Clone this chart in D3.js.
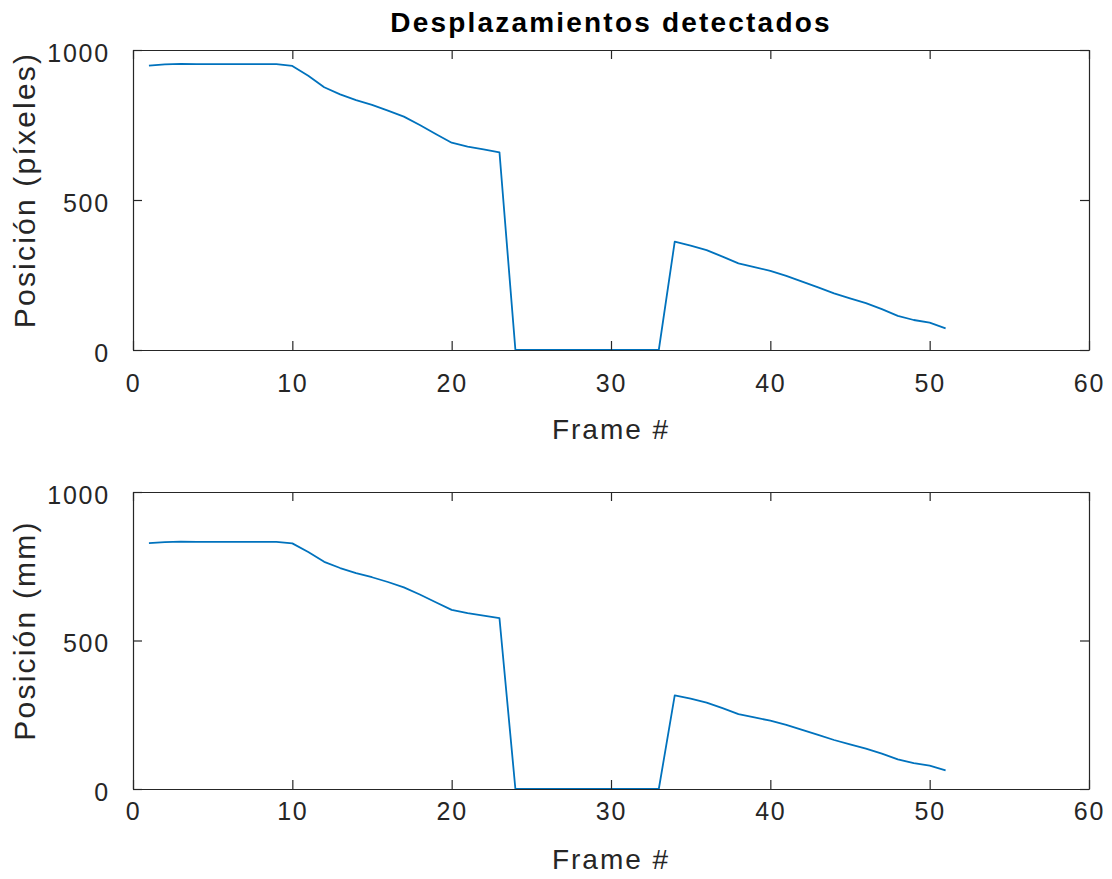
<!DOCTYPE html>
<html>
<head>
<meta charset="utf-8">
<script src="https://cdn.jsdelivr.net/npm/d3@7/dist/d3.min.js"></script>
<style>
  html, body { margin: 0; padding: 0; background: #fff; }
  svg { display: block; }
  text { font-family: "Liberation Sans", Arial, Helvetica, sans-serif; }
</style>
</head>
<body>
<svg id="chart" width="1112" height="879"></svg>
<script>
// Frame numbers 1..51
const frames = [1,2,3,4,5,6,7,8,9,10,11,12,13,14,15,16,17,18,19,20,21,22,23,24,25,26,27,28,29,30,31,32,33,34,35,36,37,38,39,40,41,42,43,44,45,46,47,48,49,50,51];

// Detected position in pixels
const posPixels = [948,952,954,953,953,953,953,953,953,947,914,876,852,833,817,798,778,750,720,691,678,669,659,0,0,0,0,0,0,0,0,0,0,361,348,333,311,289,276,264,247,228,209,189,172,156,136,114,100,91,72];

// Detected position in millimetres
const posMm = [828,831,833,832,832,832,832,832,832,827,798,765,744,727,713,697,679,655,629,603,592,584,575,0,0,0,0,0,0,0,0,0,0,315,304,291,272,252,241,230,216,199,182,165,150,136,119,100,87,79,63];

// Axis settings
const xDomain = [0, 60];
const xTicks = [0, 10, 20, 30, 40, 50, 60];
const yDomain = [0, 1000];
const yTicks = [0, 500, 1000];

const titleText = "Desplazamientos detectados";
const xLabelText = "Frame #";
const yLabels = ["Posición (píxeles)", "Posición (mm)"];

const svg = d3.select("#chart");
const axisColor = "#262626";
const lineColor = "#0072BD";

const left = 133, right = 1089;
const panels = [
  { top: 50, bottom: 350, values: posPixels, ylabel: yLabels[0], title: titleText, tickPad: 15, xlabelOff: 89 },
  { top: 492, bottom: 789, values: posMm, ylabel: yLabels[1], title: null, tickPad: 4, xlabelOff: 80 }
];

panels.forEach(p => {
  const x = d3.scaleLinear().domain(xDomain).range([left, right]);
  const y = d3.scaleLinear().domain(yDomain).range([p.bottom, p.top]);
  const g = svg.append("g");

  // data line
  const line = d3.line().x((d, i) => x(frames[i])).y(d => y(d));
  g.append("path")
    .datum(p.values)
    .attr("fill", "none")
    .attr("stroke", lineColor)
    .attr("stroke-width", 1.8)
    .attr("stroke-linejoin", "round")
    .attr("d", line);

  const tickLen = 9;
  const fmt = d3.format("d");
  // bottom axis with labels, ticks pointing inward
  const xb = g.append("g").attr("transform", `translate(0,${p.bottom})`)
    .call(d3.axisBottom(x).tickValues(xTicks).tickFormat(fmt).tickSizeInner(-tickLen).tickSizeOuter(0).tickPadding(tickLen + p.tickPad));
  // top axis (box), inward ticks, no labels
  const xt = g.append("g").attr("transform", `translate(0,${p.top})`)
    .call(d3.axisTop(x).tickValues(xTicks).tickSizeInner(-tickLen).tickSizeOuter(0).tickFormat(""));
  // left axis with labels
  const yl = g.append("g").attr("transform", `translate(${left},0)`)
    .call(d3.axisLeft(y).tickValues(yTicks).tickFormat(fmt).tickSizeInner(-tickLen).tickSizeOuter(0).tickPadding(tickLen + 14));
  // right axis (box)
  const yr = g.append("g").attr("transform", `translate(${right},0)`)
    .call(d3.axisRight(y).tickValues(yTicks).tickSizeInner(-tickLen).tickSizeOuter(0).tickFormat(""));

  [xb, xt, yl, yr].forEach(a => {
    a.select(".domain").attr("stroke", axisColor).attr("stroke-width", 1.2);
    a.selectAll(".tick line").attr("stroke", axisColor).attr("stroke-width", 1.2);
    a.selectAll(".tick text")
      .attr("fill", axisColor)
      .style("font-size", "25px")
      .style("letter-spacing", "1.8px")
      .style("font-family", '"Liberation Sans", Arial, sans-serif');
  });
  yl.selectAll(".tick text").attr("dy", "0.45em");

  // x label
  g.append("text")
    .attr("x", (left + right) / 2)
    .attr("y", p.bottom + p.xlabelOff)
    .attr("text-anchor", "middle")
    .attr("fill", axisColor)
    .style("font-size", "28px")
    .style("letter-spacing", "2px")
    .text(xLabelText);

  // y label
  g.append("text")
    .attr("transform", `translate(35,${(p.top + p.bottom) / 2 - 10}) rotate(-90)`)
    .attr("text-anchor", "middle")
    .attr("fill", axisColor)
    .style("font-size", "30px")
    .style("letter-spacing", "2.2px")
    .text(p.ylabel);

  if (p.title) {
    g.append("text")
      .attr("x", (left + right) / 2)
      .attr("y", p.top - 18)
      .attr("text-anchor", "middle")
      .attr("fill", "#000")
      .style("font-size", "28px")
      .style("font-weight", "bold")
      .style("letter-spacing", "2.2px")
      .text(p.title);
  }
});
</script>
</body>
</html>
